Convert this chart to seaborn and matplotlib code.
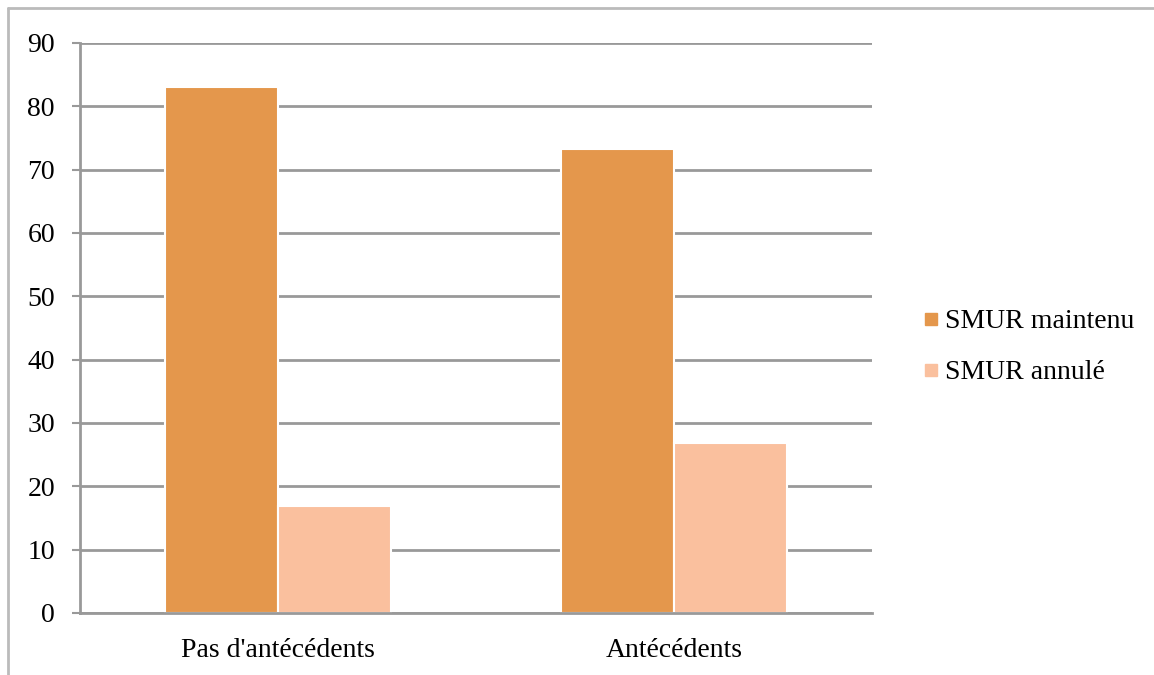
import matplotlib
matplotlib.use("Agg")
import matplotlib.pyplot as plt
from matplotlib.lines import Line2D
import seaborn as sns
import pandas as pd

categories = ["Pas d'antécédents", "Antécédents"]
series_names = ["SMUR maintenu", "SMUR annulé"]
smur_maintenu = [83.1, 73.2]
smur_annule = [16.9, 26.8]
colors = ["#E4974C", "#FAC09E"]
yticks = [0, 10, 20, 30, 40, 50, 60, 70, 80, 90]

rows = []
for cat, a, b in zip(categories, smur_maintenu, smur_annule):
    rows.append({"cat": cat, "serie": series_names[0], "val": a})
    rows.append({"cat": cat, "serie": series_names[1], "val": b})
df = pd.DataFrame(rows)

sns.set_theme(style="white")
plt.rcParams["font.family"] = ["Liberation Serif", "DejaVu Serif"]
plt.rcParams["text.color"] = "black"
plt.rcParams["xtick.color"] = "black"
plt.rcParams["ytick.color"] = "black"

FS = 20

fig = plt.figure(figsize=(11.54, 6.75), dpi=100)
ax = fig.add_axes([80/1154, 1-613/675, (872-80)/1154, (613-43)/675])

sns.barplot(data=df, x="cat", y="val", hue="serie", palette=colors,
            saturation=1, width=0.57, edgecolor="white", linewidth=1.5, ax=ax,
            errorbar=None, legend=False, zorder=3)

grid_c = "#999999"
ax.set_ylim(0, 90)
ax.set_xlim(-0.5, 1.5)
ax.set_yticks(yticks)
ax.set_yticklabels([str(v) for v in yticks], fontsize=FS)
for v in yticks:
    ax.axhline(v, color=grid_c, linewidth=2, zorder=1)
ax.set_xticks([-0.5, 0.5, 1.5], minor=False)
ax.set_xticklabels(["", "", ""])
ax.set_xticks([0, 1], minor=True)
ax.set_xticklabels(categories, minor=True, fontsize=FS)
ax.tick_params(axis="x", which="major", length=6.5, width=1.5, color=grid_c, direction="out")
ax.tick_params(axis="x", which="minor", length=0, pad=18)
ax.tick_params(axis="y", length=6, width=1.5, color=grid_c, direction="out", pad=12, left=True)
ax.set_xlabel("")
ax.set_ylabel("")
for s in ["top", "right"]:
    ax.spines[s].set_visible(False)
for s in ["left", "bottom"]:
    ax.spines[s].set_color(grid_c)
    ax.spines[s].set_linewidth(2)
    ax.spines[s].set_zorder(4)

handles = [Line2D([0], [0], marker="s", linestyle="none", markersize=8,
                  markerfacecolor=c, markeredgecolor=c) for c in colors]
fig.legend(handles, series_names, loc="center left", bbox_to_anchor=(895/1154, 1-347/675),
           frameon=False, fontsize=FS, handletextpad=0.1, labelspacing=0.92,
           handlelength=0.8)

# outer chart frame
fig.add_artist(Line2D([8/1154, 8/1154], [0, 1-8/675], color="#BBBBBB", linewidth=2,
                      transform=fig.transFigure))
fig.add_artist(Line2D([8/1154, 1], [1-8/675, 1-8/675], color="#BBBBBB", linewidth=2,
                      transform=fig.transFigure))

fig.savefig("out.png", dpi=100, facecolor="white")
